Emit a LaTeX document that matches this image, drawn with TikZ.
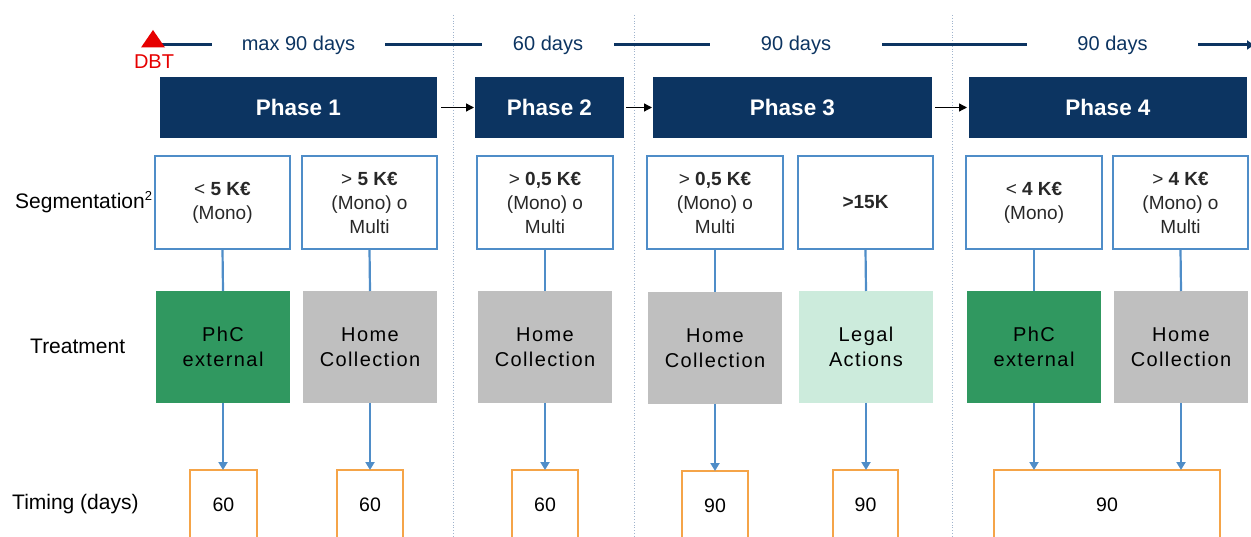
\documentclass[tikz,border=0pt]{standalone}
\usepackage{fontspec}
\setmainfont{Liberation Sans}
\newfontfamily\spacedfont[LetterSpace=7]{Liberation Sans}
\usetikzlibrary{arrows.meta}
\definecolor{navy}{RGB}{12,52,97}
\definecolor{segblue}{RGB}{79,141,200}
\definecolor{phcgreen}{RGB}{48,152,96}
\definecolor{homegray}{RGB}{191,191,191}
\definecolor{legalgreen}{RGB}{204,235,220}
\definecolor{timeorange}{RGB}{245,164,72}
\definecolor{sepgray}{RGB}{160,180,205}
\definecolor{dbtred}{RGB}{230,0,0}
\definecolor{txtgray}{RGB}{40,40,40}
\begin{document}
\begin{tikzpicture}[x=1pt,y=-1pt,
  boxbase/.style={anchor=north west, inner sep=0pt, outer sep=0pt, align=center},
  phasebox/.style={boxbase, fill=navy, draw=none, text=white,
    font=\fontsize{22.5}{24}\selectfont\bfseries, minimum height=61pt},
  segbox/.style={boxbase, fill=white, draw=segblue, line width=2.4pt,
    minimum height=93pt, text=txtgray, font=\fontsize{19}{24}\selectfont},
  treatbox/.style={boxbase, minimum height=112pt, minimum width=134pt, text=black,
    font=\spacedfont\fontsize{20}{25.5}\selectfont},
  timebox/.style={boxbase, fill=white, draw=timeorange, line width=2.2pt,
    minimum height=69pt, font=\fontsize{19.5}{23}\selectfont},
  rowlabel/.style={anchor=west, inner sep=0pt, font=\fontsize{21}{24}\selectfont},
  tlabel/.style={inner sep=0pt, text=navy, font=\fontsize{20}{23}\selectfont},
  tline/.style={draw=navy, line width=3pt},
  phasearrow/.style={draw=black, line width=1.3pt, -{Triangle[length=8pt,width=8pt]}},
  segline/.style={draw=segblue, line width=2.2pt},
  segarrow/.style={draw=segblue, line width=2.2pt, -{Triangle[length=8pt,width=9pt]}},
  sepline/.style={draw=sepgray, line width=0.8pt, dotted}
]
\useasboundingbox (0,0) rectangle (1251,537);

% separators
\draw[sepline] (453,15) -- (453,540);
\draw[sepline] (634,15) -- (634,540);
\draw[sepline] (952,15) -- (952,540);

% timeline
\coordinate (tstart) at (157,45);
\coordinate (tend) at (1254,45);
\node[tlabel, minimum width=173pt] (l1) at (298.5,45) {max 90 days};
\node[tlabel, minimum width=132pt] (l2) at (548,45) {60 days};
\node[tlabel, minimum width=172pt] (l3) at (796,45) {90 days};
\node[tlabel, minimum width=171pt] (l4) at (1112.5,45) {90 days};
\draw[tline] (tstart) -- (l1.west);
\draw[tline] (l1.east) -- (l2.west);
\draw[tline] (l2.east) -- (l3.west);
\draw[tline] (l3.east) -- (l4.west);
\draw[tline, -{Triangle[length=7pt,width=9pt]}] (l4.east) -- (tend);

% DBT marker
\fill[dbtred] (141,47.5) -- (153,30) -- (165,47.5) -- cycle;
\node[inner sep=0pt, text=dbtred, font=\fontsize{20}{22}\selectfont] (dbt) at (154,62) {DBT};

% phases
\node[phasebox, minimum width=277pt] (p1) at (160,77) {Phase 1};
\node[phasebox, minimum width=149pt] (p2) at (475,77) {Phase 2};
\node[phasebox, minimum width=279pt] (p3) at (653,77) {Phase 3};
\node[phasebox, minimum width=278pt] (p4) at (969,77) {Phase 4};
\draw[phasearrow] ([xshift=4pt]p1.east) -- ([xshift=-1pt]p2.west);
\draw[phasearrow] ([xshift=2pt]p2.east) -- ([xshift=-1pt]p3.west);
\draw[phasearrow] ([xshift=3pt]p3.east) -- ([xshift=-2pt]p4.west);

% row labels
\node[rowlabel] (lseg) at (15,202) {Segmentation\textsuperscript{\fontsize{13}{13}\selectfont 2}};
\node[rowlabel] (ltreat) at (30,346) {Treatment};
\node[rowlabel] (ltime) at (12,504) {Timing (days)};

% segmentation boxes
\node[segbox, minimum width=135pt] (s1) at (155,156) {< \textbf{5 K€}\\(Mono)};
\node[segbox, minimum width=135pt] (s2) at (302,156) {> \textbf{5 K€}\\(Mono) o\\Multi};
\node[segbox, minimum width=136pt] (s3) at (477,156) {> \textbf{0,5 K€}\\(Mono) o\\Multi};
\node[segbox, minimum width=136pt] (s4) at (647,156) {> \textbf{0,5 K€}\\(Mono) o\\Multi};
\node[segbox, minimum width=135pt] (s5) at (798,156) {\textbf{>15K}};
\node[segbox, minimum width=136pt] (s6) at (966,156) {< \textbf{4 K€}\\(Mono)};
\node[segbox, minimum width=135pt] (s7) at (1113,156) {> \textbf{4 K€}\\(Mono) o\\Multi};

% treatment boxes
\node[treatbox, fill=phcgreen] (t1) at (156,291) {PhC\\external};
\node[treatbox, fill=homegray] (t2) at (303,291) {Home\\Collection};
\node[treatbox, fill=homegray] (t3) at (478,291) {Home\\Collection};
\node[treatbox, fill=homegray] (t4) at (648,292) {Home\\Collection};
\node[treatbox, fill=legalgreen] (t5) at (799,291) {Legal\\Actions};
\node[treatbox, fill=phcgreen] (t6) at (967,291) {PhC\\external};
\node[treatbox, fill=homegray] (t7) at (1114,291) {Home\\Collection};

% timing boxes
\node[timebox, minimum width=67pt] (m1) at (190,470) {60};
\node[timebox, minimum width=66pt] (m2) at (337,470) {60};
\node[timebox, minimum width=66pt] (m3) at (512,470) {60};
\node[timebox, minimum width=66pt] (m4) at (682,471) {90};
\node[timebox, minimum width=65pt] (m5) at (833,470) {90};
\node[timebox, minimum width=226pt] (m6) at (994,470) {90};

% connectors segmentation -> treatment
\foreach \i in {1,...,7}{
  \draw[segline] (s\i.south) -- (t\i.north);
}
% connectors treatment -> timing
\draw[segarrow] (t1.south) -- (t1.south |- m1.north);
\draw[segarrow] (t2.south) -- (t2.south |- m2.north);
\draw[segarrow] (t3.south) -- (t3.south |- m3.north);
\draw[segarrow] (t4.south) -- (t4.south |- m4.north);
\draw[segarrow] (t5.south) -- (t5.south |- m5.north);
\draw[segarrow] (t6.south) -- (t6.south |- m6.north);
\draw[segarrow] (t7.south) -- (t7.south |- m6.north);
\end{tikzpicture}
\end{document}
